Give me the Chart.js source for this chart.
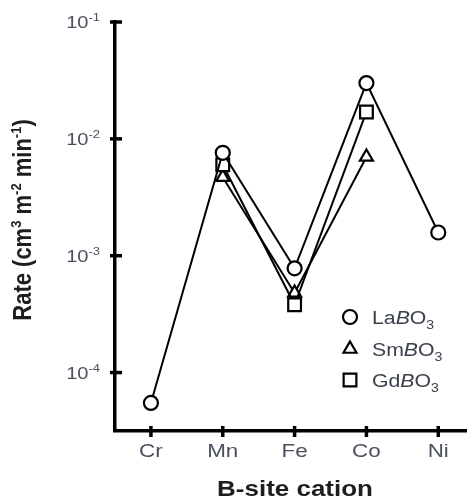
<!DOCTYPE html>
<html>
<head>
<meta charset="utf-8">
<script src="https://cdn.jsdelivr.net/npm/chart.js@4.4.0/dist/chart.umd.min.js"></script>
<style>
  html, body { margin: 0; padding: 0; background: #fff; overflow: hidden; }
  canvas { display: block; }
</style>
</head>
<body>
<canvas id="rate-graph" width="467" height="499"></canvas>
<script>
const cations = ['Cr', 'Mn', 'Fe', 'Co', 'Ni']
const laRates = [5.5e-5, 7.6e-3, 7.8e-4, 3.0e-2, 1.58e-3]
const smRates = [null, 4.7e-3, 4.8e-4, 7.0e-3, null]
const gdRates = [null, 6.0e-3, 3.8e-4, 1.7e-2, null]
const yTicks = [1e-4, 1e-3, 1e-2, 1e-1]
const yTickExps = ['-4', '-3', '-2', '-1']

// legend entries: [prefix, italic part, suffix, subscript]
const legendParts = [
    ['La', 'B', 'O', '3'],
    ['Sm', 'B', 'O', '3'],
    ['Gd', 'B', 'O', '3']
]

function toPoints(values){
    let pts = []
    values.forEach((v, i) => {
        if (v != null) pts.push({ x: i, y: v })
    })
    return pts
}

const tickColor = '#4b505e'
const titleColor = '#1e1e1e'
const fontFam = '"Liberation Sans", Arial, sans-serif'
const stretch = 1.18

// draws a run of text pieces [text, font, dy] stretched horizontally
function drawRuns(ctx, runs, x, y, align){
    ctx.save()
    let w = 0
    runs.forEach(r => { ctx.font = r[1]; w += ctx.measureText(r[0]).width })
    ctx.translate(x, y)
    ctx.scale(stretch, 1)
    let cx = align == 'center' ? -w / 2 : (align == 'right' ? -w : 0)
    ctx.textBaseline = 'alphabetic'
    runs.forEach(r => {
        ctx.font = r[1]
        ctx.fillText(r[0], cx, r[2] || 0)
        cx += ctx.measureText(r[0]).width
    })
    ctx.restore()
}

const axisTextPlugin = {
    id: 'axisText',
    afterDraw(chart){
        const ctx = chart.ctx
        const xs = chart.scales.x
        const ys = chart.scales.y

        // tick marks crossing the axes
        ctx.save()
        ctx.strokeStyle = '#000'
        ctx.lineWidth = 3.5
        cations.forEach((c, i) => {
            const px = xs.getPixelForValue(i)
            ctx.beginPath()
            ctx.moveTo(px, xs.top - 5)
            ctx.lineTo(px, xs.top + 6)
            ctx.stroke()
        })
        yTicks.forEach(v => {
            const py = ys.getPixelForValue(v)
            ctx.beginPath()
            ctx.moveTo(ys.right - 5, py)
            ctx.lineTo(ys.right + 7, py)
            ctx.stroke()
        })
        ctx.restore()

        // x tick labels
        ctx.fillStyle = tickColor
        cations.forEach((c, i) => {
            drawRuns(ctx, [[c, '19px ' + fontFam]], xs.getPixelForValue(i), 457, 'center')
        })

        // y tick labels 10^n
        yTicks.forEach((v, i) => {
            const py = ys.getPixelForValue(v)
            drawRuns(ctx, [
                ['10', '17px ' + fontFam, 0],
                [yTickExps[i], '11px ' + fontFam, -7]
            ], 100, py + 6, 'right')
        })

        // axis titles
        ctx.fillStyle = titleColor
        drawRuns(ctx, [['B-site cation', 'bold 22px ' + fontFam]], 295, 496, 'center')

        ctx.save()
        ctx.translate(31, 220)
        ctx.rotate(-Math.PI / 2)
        ctx.scale(1, 1.15)
        const bf = 'bold 22px ' + fontFam
        const sf = 'bold 13px ' + fontFam
        const runs = [['Rate (cm', bf, 0], ['3', sf, -9], [' m', bf, 0], ['-2', sf, -9],
                      [' min', bf, 0], ['-1', sf, -9], [')', bf, 0]]
        let w = 0
        runs.forEach(r => { ctx.font = r[1]; w += ctx.measureText(r[0]).width })
        let cx = -w / 2
        runs.forEach(r => {
            ctx.font = r[1]
            ctx.fillText(r[0], cx, r[2])
            cx += ctx.measureText(r[0]).width
        })
        ctx.restore()

        // legend inside plot
        const rows = [317, 349, 380]
        chart.data.datasets.forEach((ds, i) => {
            const y = rows[i]
            ctx.save()
            ctx.lineWidth = 2.2
            ctx.strokeStyle = '#000'
            ctx.fillStyle = '#fff'
            Chart.helpers.drawPoint(ctx, {
                pointStyle: ds.pointStyle,
                radius: ds.pointRadius,
                borderWidth: 2.2
            }, 350, y)
            ctx.restore()

            const p = legendParts[i]
            ctx.fillStyle = '#3c414e'
            drawRuns(ctx, [
                [p[0], '18px ' + fontFam, 0],
                [p[1], 'italic 18px ' + fontFam, 0],
                [p[2], '18px ' + fontFam, 0],
                [p[3], '12px ' + fontFam, 5]
            ], 372, y + 7, 'left')
        })
    }
}

const baseSet = {
    borderColor: '#000',
    backgroundColor: '#fff',
    pointBackgroundColor: '#fff',
    pointBorderColor: '#000',
    borderWidth: 2,
    pointBorderWidth: 2.2,
    showLine: true,
    tension: 0
}

const ctx = document.getElementById('rate-graph').getContext('2d')
const rateChart = new Chart(ctx, {
    type: 'scatter',
    data: {
        datasets: [
            Object.assign({}, baseSet, { label: 'LaBO3', data: toPoints(laRates), pointStyle: 'circle', pointRadius: 7, order: 1 }),
            Object.assign({}, baseSet, { label: 'SmBO3', data: toPoints(smRates), pointStyle: 'triangle', pointRadius: 7.5, order: 3 }),
            Object.assign({}, baseSet, { label: 'GdBO3', data: toPoints(gdRates), pointStyle: 'rect', pointRadius: 9, order: 2 })
        ]
    },
    options: {
        responsive: false,
        animation: false,
        layout: { autoPadding: false, padding: { top: 22, right: 0, left: 0, bottom: 0 } },
        plugins: {
            legend: { display: false },
            tooltip: { enabled: false }
        },
        scales: {
            x: {
                type: 'linear',
                min: -0.5,
                max: 4.4,
                afterBuildTicks: scale => {
                    scale.ticks = cations.map((c, i) => ({ value: i }))
                },
                afterFit: scale => { scale.height = 68 },
                border: { display: true, color: '#000', width: 3.5 },
                grid: { drawOnChartArea: false, drawTicks: false },
                ticks: { display: false }
            },
            y: {
                type: 'logarithmic',
                min: Math.pow(10, -4.5),
                max: 0.1,
                afterBuildTicks: scale => {
                    scale.ticks = yTicks.map(v => ({ value: v }))
                },
                afterFit: scale => { scale.width = 115 },
                border: { display: true, color: '#000', width: 3.5 },
                grid: { drawOnChartArea: false, drawTicks: false },
                ticks: { display: false }
            }
        }
    },
    plugins: [axisTextPlugin]
})
</script>
</body>
</html>
